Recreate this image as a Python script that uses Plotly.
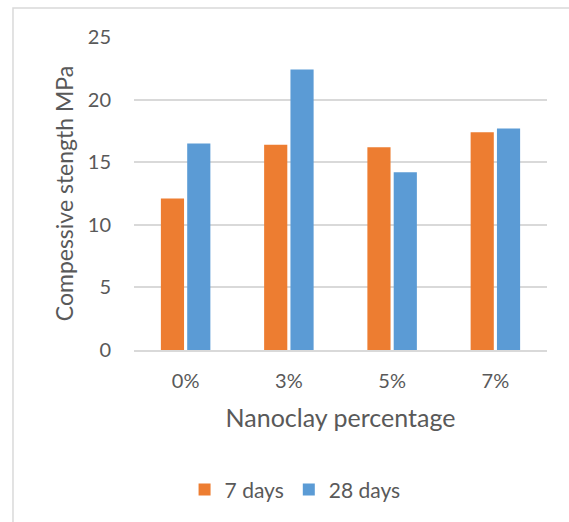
import plotly.graph_objects as go

# Compressive strength by nanoclay content
categories = ["0%", "3%", "5%", "7%"]
strength_7_days = [12.1, 16.4, 16.2, 17.4]
strength_28_days = [16.5, 22.4, 14.2, 17.7]
y_ticks = [0, 5, 10, 15, 20, 25]

ORANGE = "#ED7D31"
BLUE = "#5B9BD5"
TEXT = "#595959"
GRID = "#D9D9D9"
FONT = "Lato, 'Open Sans', sans-serif"

fig = go.Figure()
fig.add_trace(go.Bar(x=categories, y=strength_7_days, name="7 days",
                     marker=dict(color=ORANGE, line=dict(width=0))))
fig.add_trace(go.Bar(x=categories, y=strength_28_days, name="28 days",
                     marker=dict(color=BLUE, line=dict(width=0))))

fig.update_layout(
    width=569, height=522,
    margin=dict(l=134, r=22, t=37, b=172),
    paper_bgcolor="white", plot_bgcolor="white",
    barmode="group", bargap=0.49, bargroupgap=0.12,
    font=dict(family=FONT, color=TEXT),
    showlegend=True,
    legend=dict(orientation="h", x=0.39, xanchor="center", y=-0.447, yanchor="middle",
                font=dict(size=21, color=TEXT), itemwidth=30),
    xaxis=dict(
        showgrid=False, showline=True, linecolor=GRID, linewidth=2,
        ticks="", tickfont=dict(size=20, color=TEXT), ticklabelstandoff=12,
        title=dict(text="Nanoclay percentage", font=dict(size=25, color=TEXT), standoff=18),
    ),
    yaxis=dict(
        range=[0, 25], tickvals=y_ticks, showgrid=True, gridcolor=GRID, gridwidth=2,
        zeroline=False, showline=False, ticks="",
        tickfont=dict(size=20, color=TEXT), ticklabelstandoff=22,
        title=dict(text="Compessive stength MPa", font=dict(size=23, color=TEXT), standoff=7),
    ),
    shapes=[dict(type="rect", xref="paper", yref="paper",
                 x0=-0.293, x1=1.2, y0=-0.7, y1=1.0927,
                 line=dict(color=GRID, width=1.5), fillcolor="rgba(0,0,0,0)", layer="below")],
)

fig.write_html("out.html")
